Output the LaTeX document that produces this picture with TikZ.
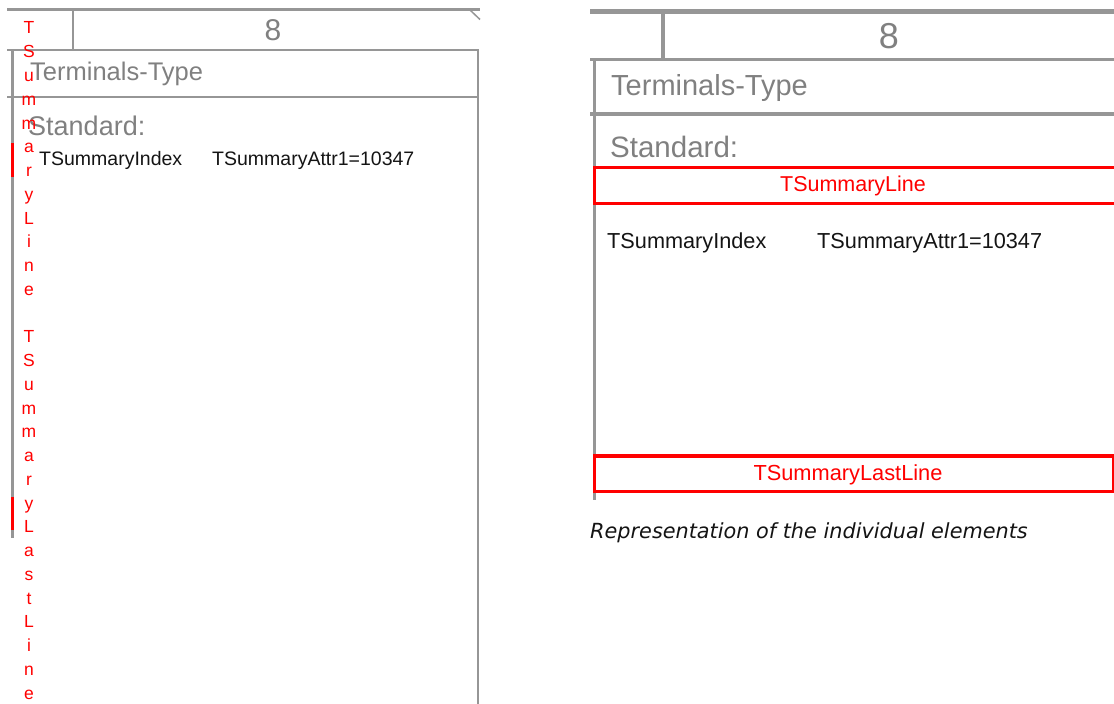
\documentclass[tikz,border=0pt]{standalone}
\usepackage{fontspec}
\setmainfont{Liberation Sans}
\newfontfamily\capfont{DejaVu Sans}
\definecolor{linegray}{RGB}{150,150,150}
\definecolor{textgray}{RGB}{128,128,128}
\definecolor{redbox}{RGB}{255,0,0}
\definecolor{txtblack}{RGB}{20,20,20}
\tikzset{
  gline/.style={draw=linegray, line width=2.2pt},
  gthick/.style={draw=linegray, line width=3.4pt},
  rbar/.style={draw=redbox, line width=3pt},
  rframe/.style={draw=redbox, line width=3.8pt},
  lbl/.style={inner sep=0pt, anchor=base west},
  clbl/.style={inner sep=0pt, anchor=base},
  vch/.style={inner sep=0pt, anchor=base, text=redbox, font=\fontsize{17.5}{20}\selectfont},
}
\begin{document}
\begin{tikzpicture}[x=1pt,y=-1pt]
\useasboundingbox (0,0) rectangle (1114,704);
\clip (0,0) rectangle (1114,704);

% ================= LEFT PANEL =================
\coordinate (LT1) at (7,9.5);
\coordinate (LT2) at (480,9.5);
\coordinate (LD1) at (470,10);
\coordinate (LD2) at (480,19.5);
\draw[gline] (LT1) -- (LT2);
\draw[draw=linegray, line width=1.5pt] (LD1) -- (LD2);
\coordinate (LS1) at (73,10);
\coordinate (LS2) at (73,50);
\draw[gline] (LS1) -- (LS2);
\coordinate (LB1) at (7,50);
\coordinate (LB2) at (478,50);
\coordinate (LB3) at (478,704);
\draw[gline] (LB1) -- (LB2) -- (LB3);
\coordinate (LL1) at (12.5,50);
\coordinate (LL2) at (12.5,538);
\draw[gline] (LL1) -- (LL2);
\coordinate (LH1) at (7,97);
\coordinate (LH2) at (478,97);
\draw[gline] (LH1) -- (LH2);
\coordinate (LR1a) at (12.5,143);
\coordinate (LR1b) at (12.5,177);
\draw[rbar] (LR1a) -- (LR1b);
\coordinate (LR2a) at (12.5,497);
\coordinate (LR2b) at (12.5,530);
\draw[rbar] (LR2a) -- (LR2b);

\node[clbl, text=textgray, font=\fontsize{30}{32}\selectfont] (l8) at (273,40) {8};
\node[lbl, text=textgray, font=\fontsize{25.5}{28}\selectfont] (lterm) at (30,80) {Terminals-Type};
\node[lbl, text=textgray, font=\fontsize{27}{30}\selectfont] (lstd) at (28,135) {Standard:};
\node[lbl, text=txtblack, font=\fontsize{19.5}{22}\selectfont] (lidx) at (39,165) {TSummaryIndex};
\node[lbl, text=txtblack, font=\fontsize{19.5}{22}\selectfont] (lattr) at (212,165) {TSummaryAttr1=10347};

\foreach \c [count=\i from 0] in {T,S,u,m,m,a,r,y,L,i,n,e}
  \node[vch] (va\i) at (29,34+23.75*\i) {\c};
\foreach \c [count=\i from 13] in {T,S,u,m,m,a,r,y,L,a,s,t,L,i,n,e}
  \node[vch] (vb\i) at (29,34+23.75*\i) {\c};

% ================= RIGHT PANEL =================
\coordinate (RT1) at (590,11.5);
\coordinate (RT2) at (1114,11.5);
\draw[draw=linegray, line width=5pt] (RT1) -- (RT2);
\coordinate (RS1) at (663,14);
\coordinate (RS2) at (663,59);
\draw[gthick] (RS1) -- (RS2);
\coordinate (RH1a) at (590,59.5);
\coordinate (RH1b) at (1114,59.5);
\draw[gthick] (RH1a) -- (RH1b);
\coordinate (RL1) at (594.5,59.5);
\coordinate (RL2) at (594.5,500);
\draw[gthick] (RL1) -- (RL2);
\coordinate (RH2a) at (590,114);
\coordinate (RH2b) at (1114,114);
\draw[gthick] (RH2a) -- (RH2b);

\node[clbl, text=textgray, font=\fontsize{36}{40}\selectfont] (r8) at (889,48.5) {8};
\node[lbl, text=textgray, font=\fontsize{29}{32}\selectfont] (rterm) at (611,95) {Terminals-Type};
\node[lbl, text=textgray, font=\fontsize{29.5}{32}\selectfont] (rstd) at (610,157) {Standard:};

\coordinate (RB1a) at (594.5,167.5);
\coordinate (RB1b) at (1125,203.5);
\draw[rframe] (RB1a) rectangle (RB1b);
\node[clbl, text=redbox, font=\fontsize{21.5}{24}\selectfont] (rline) at (853,191) {TSummaryLine};

\node[lbl, text=txtblack, font=\fontsize{21.7}{24}\selectfont] (ridx) at (607,248) {TSummaryIndex};
\node[lbl, text=txtblack, font=\fontsize{21.7}{24}\selectfont] (rattr) at (817,248) {TSummaryAttr1=10347};

\coordinate (RB2a) at (594.5,456);
\coordinate (RB2b) at (1113.5,491.5);
\draw[rframe] (RB2a) rectangle (RB2b);
\node[clbl, text=redbox, font=\fontsize{21.8}{24}\selectfont] (rlast) at (848,480) {TSummaryLastLine};

\node[lbl, text=txtblack, font=\capfont\itshape\fontsize{20.8}{24}\selectfont] (cap) at (590,538) {Representation of the individual elements};
\end{tikzpicture}
\end{document}
